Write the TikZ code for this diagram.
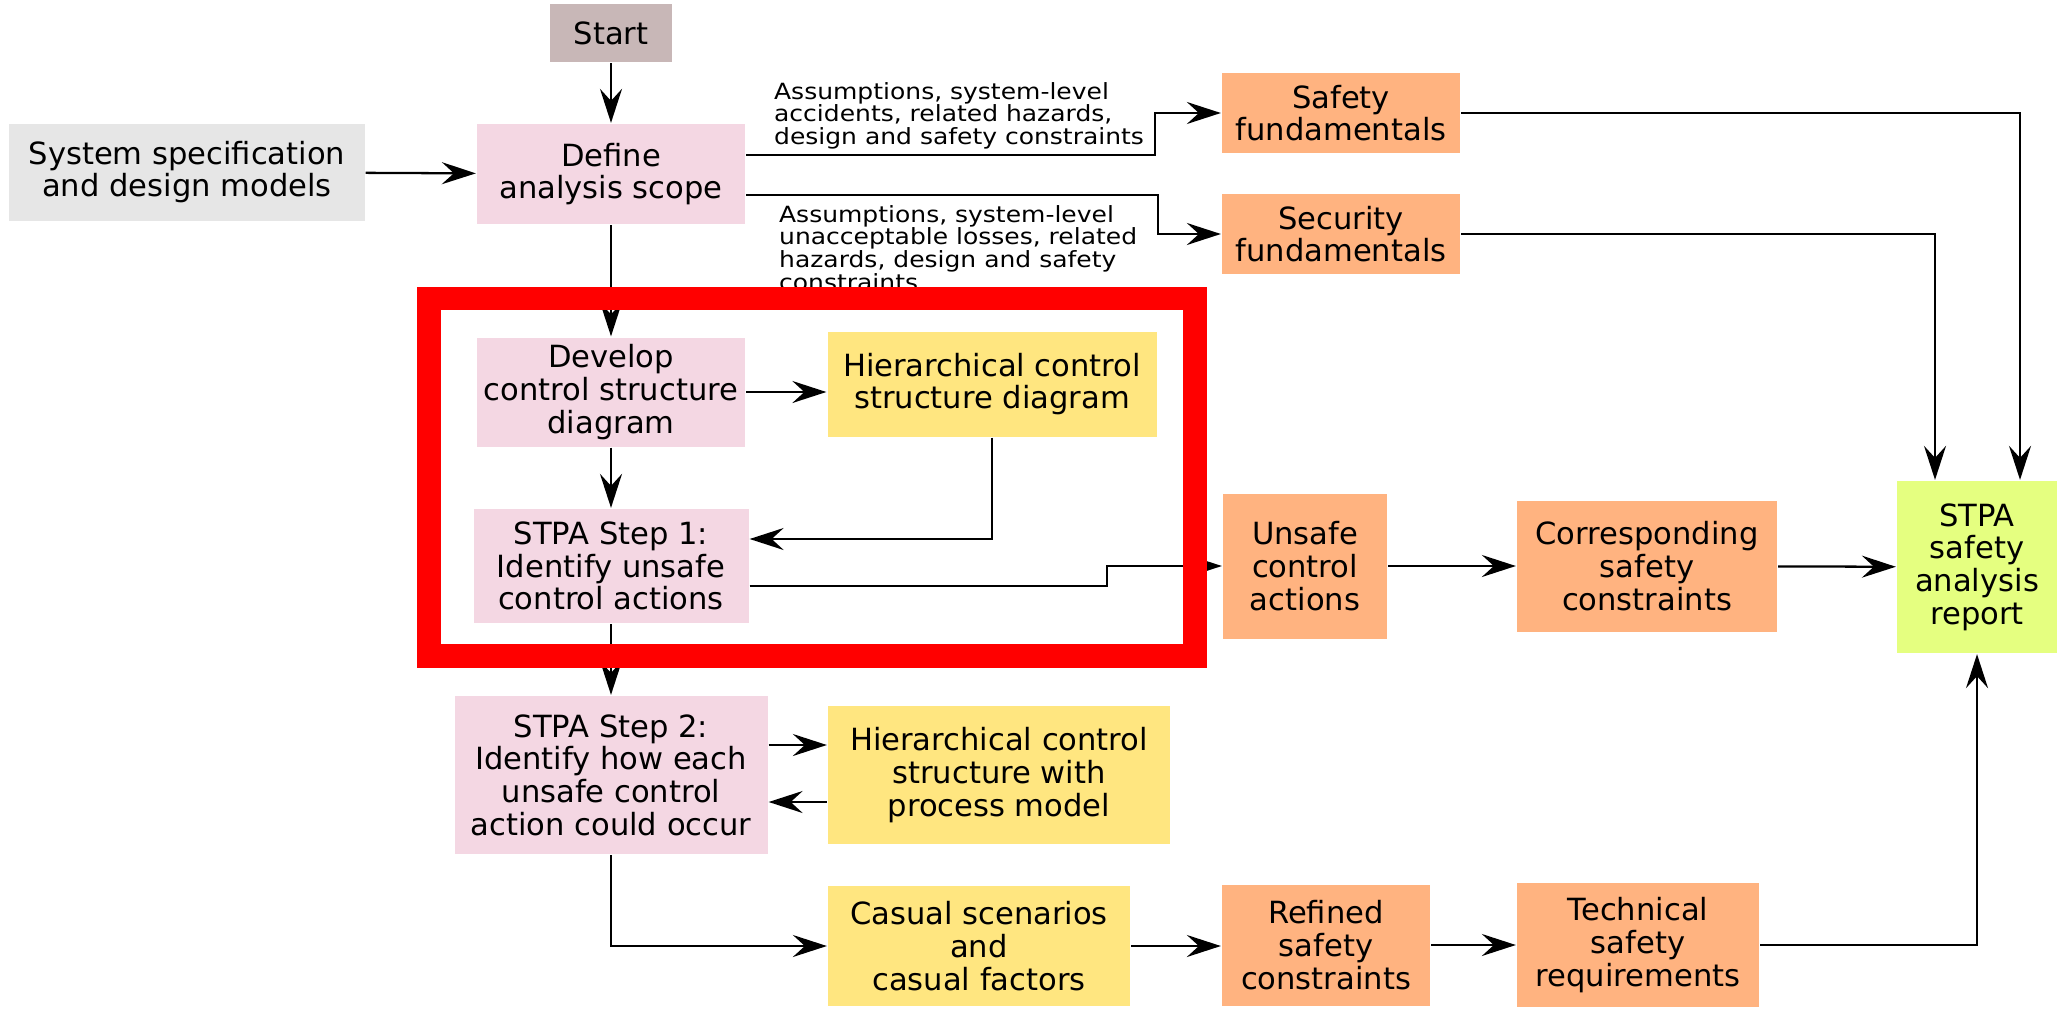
\documentclass[tikz,border=0pt]{standalone}
\usepackage{fontspec}
\setmainfont{DejaVu Sans}
\newfontfamily\lblfont[FakeStretch=1.12]{DejaVu Sans}
\usetikzlibrary{arrows.meta}
\definecolor{startfill}{RGB}{200,183,183}
\definecolor{inputfill}{RGB}{230,230,230}
\definecolor{taskfill}{RGB}{244,215,227}
\definecolor{modelfill}{RGB}{255,230,128}
\definecolor{resultfill}{RGB}{255,179,128}
\definecolor{reportfill}{RGB}{229,255,128}
\begin{document}
\begin{tikzpicture}[>={Stealth[length=3.4mm,width=2.2mm,inset=1.2mm]}, line width=0.65pt,
    box/.style={inner sep=0pt, align=center, font=\fontsize{8.7}{9.3}\selectfont},
    sz/.style 2 args={minimum width=#1cm, minimum height=#2cm},
    lbl/.style={inner sep=0pt, align=left, anchor=north west, font=\lblfont\fontsize{6.35}{6.45}\selectfont}]
    \useasboundingbox (0,0) rectangle (20.61,-10.16);
    % boxes
    \node[box, sz={1.22}{0.58}, fill=startfill] (start) at (6.11,-0.33) {Start};
    \node[box, sz={3.55}{0.97}, fill=inputfill] (spec) at (1.87,-1.72) {System specification\\and design models};
    \node[box, sz={2.68}{1.00}, fill=taskfill] (scope) at (6.11,-1.74) {Define\\analysis scope};
    \node[box, sz={2.38}{0.80}, fill=resultfill] (safefund) at (13.41,-1.13) {Safety\\fundamentals};
    \node[box, sz={2.38}{0.80}, fill=resultfill] (secfund) at (13.41,-2.34) {Security\\fundamentals};
    \node[box, sz={2.68}{1.09}, fill=taskfill] (develop) at (6.11,-3.92) {Develop\\control structure\\diagram};
    \node[box, sz={3.29}{1.05}, fill=modelfill] (hcsd) at (9.92,-3.84) {Hierarchical control\\structure diagram};
    \node[box, sz={2.75}{1.14}, fill=taskfill] (stepone) at (6.11,-5.66) {STPA Step 1:\\Identify unsafe\\control actions};
    \node[box, sz={1.64}{1.45}, fill=resultfill] (uca) at (13.05,-5.66) {Unsafe\\control\\actions};
    \node[box, sz={2.60}{1.31}, fill=resultfill] (corrsc) at (16.47,-5.66) {Corresponding\\safety\\constraints};
    \node[box, sz={1.60}{1.72}, fill=reportfill] (report) at (19.77,-5.67) {STPA\\safety\\analysis\\report};
    \node[box, sz={3.13}{1.58}, fill=taskfill] (steptwo) at (6.11,-7.75) {STPA Step 2:\\Identify how each\\unsafe control\\action could occur};
    \node[box, sz={3.42}{1.38}, fill=modelfill] (hcspm) at (9.99,-7.75) {Hierarchical control\\structure with\\process model};
    \node[box, sz={3.02}{1.20}, fill=modelfill] (casual) at (9.79,-9.46) {Casual scenarios\\and\\casual factors};
    \node[box, sz={2.08}{1.21}, fill=resultfill] (refined) at (13.26,-9.45) {Refined\\safety\\constraints};
    \node[box, sz={2.42}{1.24}, fill=resultfill] (techreq) at (16.38,-9.45) {Technical\\safety\\requirements};
    % connectors
    \draw[->] (start) -- (scope);
    \draw[->] (spec) -- (scope);
    \draw[->] ([yshift=1.9mm]scope.east) -- ++(4.09,0) |- (safefund);
    \draw[->] ([yshift=-2.1mm]scope.east) -- ++(4.12,0) |- (secfund);
    \draw[->] (scope) -- (develop);
    \draw[->] (develop.east) -- (develop.east -| hcsd.west);
    \draw[->] (develop) -- (stepone);
    \draw[->] (hcsd.south) |- ([yshift=2.7mm]stepone.east);
    \draw[->] ([yshift=-2mm]stepone.east) -- ++(3.57,0) |- (uca);
    \draw[->] (uca) -- (corrsc);
    \draw[->] (corrsc) -- (report);
    \draw[->] (safefund.east) -| ([xshift=4.3mm]report.north);
    \draw[->] (secfund.east) -| ([xshift=-4.2mm]report.north);
    \draw[->] (stepone) -- (steptwo);
    \draw[->] ([yshift=3mm]steptwo.east) -- ([yshift=3mm]steptwo.east -| hcspm.west);
    \draw[->] ([yshift=-2.7mm]hcspm.west) -- ([yshift=-2.7mm]hcspm.west -| steptwo.east);
    \draw[->] (steptwo) |- (casual);
    \draw[->] (casual.east) -- (casual.east -| refined.west);
    \draw[->] (refined.east) -- (refined.east -| techreq.west);
    \draw[->] (techreq.east) -| (report.south);
    % edge texts
    \node[lbl] (safetext) at (7.73,-0.81) {Assumptions, system-level\\accidents, related hazards,\\design and safety constraints};
    \node[lbl] (sectext) at (7.78,-2.04) {Assumptions, system-level\\unacceptable losses, related\\hazards, design and safety\\constraints};
    % step 1 frame
    \draw[red, line width=0.235cm] (4.29,-2.985) rectangle (11.95,-6.56);
\end{tikzpicture}
\end{document}
